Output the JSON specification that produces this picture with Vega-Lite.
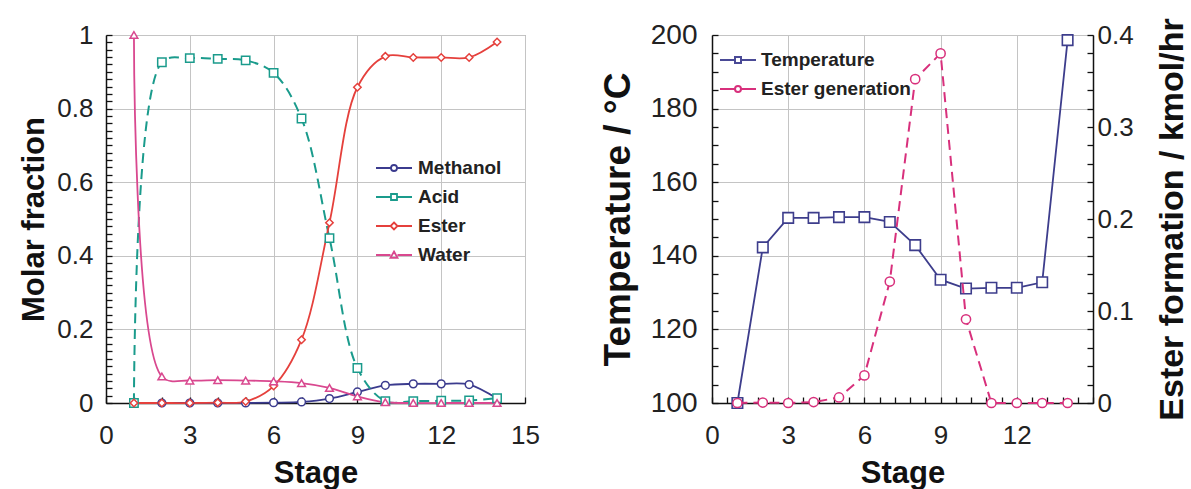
{
  "$schema": "https://vega.github.io/schema/vega-lite/v6.json",
  "padding": {"left": 18, "top": 17, "right": 0, "bottom": 0},
  "background": "white",
  "config": {
    "view": {"stroke": "#8a8a8a", "strokeWidth": 1},
    "axis": {
      "labelFont": "Liberation Sans", "labelFontSize": 26, "labelColor": "#222", "labelFlush": false, "labelOverlap": false,
      "titleFont": "Liberation Sans", "titleFontSize": 31, "titleFontWeight": "bold", "titleColor": "#111",
      "domainColor": "#111", "domainWidth": 1.5, "tickColor": "#111", "tickWidth": 1.3, "tickSize": -6,
      "gridColor": "#c4c4c4", "gridWidth": 1, "labelPadding": 3
    }
  },
  "datasets": {
    "left": [
      {"stage": 1, "series": "Methanol", "value": 0}, {"stage": 2, "series": "Methanol", "value": 0}, {"stage": 3, "series": "Methanol", "value": 0}, {"stage": 4, "series": "Methanol", "value": 0}, {"stage": 5, "series": "Methanol", "value": 0}, {"stage": 6, "series": "Methanol", "value": 0.001}, {"stage": 7, "series": "Methanol", "value": 0.003}, {"stage": 8, "series": "Methanol", "value": 0.012}, {"stage": 9, "series": "Methanol", "value": 0.03}, {"stage": 10, "series": "Methanol", "value": 0.048}, {"stage": 11, "series": "Methanol", "value": 0.052}, {"stage": 12, "series": "Methanol", "value": 0.052}, {"stage": 13, "series": "Methanol", "value": 0.05}, {"stage": 14, "series": "Methanol", "value": 0.012},
      {"stage": 1, "series": "Acid", "value": 0}, {"stage": 2, "series": "Acid", "value": 0.926}, {"stage": 3, "series": "Acid", "value": 0.937}, {"stage": 4, "series": "Acid", "value": 0.935}, {"stage": 5, "series": "Acid", "value": 0.931}, {"stage": 6, "series": "Acid", "value": 0.897}, {"stage": 7, "series": "Acid", "value": 0.773}, {"stage": 8, "series": "Acid", "value": 0.448}, {"stage": 9, "series": "Acid", "value": 0.095}, {"stage": 10, "series": "Acid", "value": 0.005}, {"stage": 11, "series": "Acid", "value": 0.005}, {"stage": 12, "series": "Acid", "value": 0.006}, {"stage": 13, "series": "Acid", "value": 0.007}, {"stage": 14, "series": "Acid", "value": 0.013},
      {"stage": 1, "series": "Ester", "value": 0}, {"stage": 2, "series": "Ester", "value": 0}, {"stage": 3, "series": "Ester", "value": 0}, {"stage": 4, "series": "Ester", "value": 0.001}, {"stage": 5, "series": "Ester", "value": 0.004}, {"stage": 6, "series": "Ester", "value": 0.046}, {"stage": 7, "series": "Ester", "value": 0.172}, {"stage": 8, "series": "Ester", "value": 0.49}, {"stage": 9, "series": "Ester", "value": 0.858}, {"stage": 10, "series": "Ester", "value": 0.942}, {"stage": 11, "series": "Ester", "value": 0.939}, {"stage": 12, "series": "Ester", "value": 0.939}, {"stage": 13, "series": "Ester", "value": 0.939}, {"stage": 14, "series": "Ester", "value": 0.981},
      {"stage": 1, "series": "Water", "value": 1.0}, {"stage": 2, "series": "Water", "value": 0.072}, {"stage": 3, "series": "Water", "value": 0.061}, {"stage": 4, "series": "Water", "value": 0.062}, {"stage": 5, "series": "Water", "value": 0.061}, {"stage": 6, "series": "Water", "value": 0.059}, {"stage": 7, "series": "Water", "value": 0.054}, {"stage": 8, "series": "Water", "value": 0.041}, {"stage": 9, "series": "Water", "value": 0.018}, {"stage": 10, "series": "Water", "value": 0.002}, {"stage": 11, "series": "Water", "value": 0}, {"stage": 12, "series": "Water", "value": 0}, {"stage": 13, "series": "Water", "value": 0}, {"stage": 14, "series": "Water", "value": 0}
    ],
    "right": [
      {"stage": 1, "series": "Temperature", "value": 100}, {"stage": 2, "series": "Temperature", "value": 142.3}, {"stage": 3, "series": "Temperature", "value": 150.3}, {"stage": 4, "series": "Temperature", "value": 150.3}, {"stage": 5, "series": "Temperature", "value": 150.5}, {"stage": 6, "series": "Temperature", "value": 150.5}, {"stage": 7, "series": "Temperature", "value": 149.2}, {"stage": 8, "series": "Temperature", "value": 142.9}, {"stage": 9, "series": "Temperature", "value": 133.5}, {"stage": 10, "series": "Temperature", "value": 131.1}, {"stage": 11, "series": "Temperature", "value": 131.3}, {"stage": 12, "series": "Temperature", "value": 131.3}, {"stage": 13, "series": "Temperature", "value": 132.8}, {"stage": 14, "series": "Temperature", "value": 198.6},
      {"stage": 1, "series": "Ester generation", "value": 0}, {"stage": 2, "series": "Ester generation", "value": 0.0005}, {"stage": 3, "series": "Ester generation", "value": 0}, {"stage": 4, "series": "Ester generation", "value": 0.001}, {"stage": 5, "series": "Ester generation", "value": 0.006}, {"stage": 6, "series": "Ester generation", "value": 0.03}, {"stage": 7, "series": "Ester generation", "value": 0.132}, {"stage": 8, "series": "Ester generation", "value": 0.352}, {"stage": 9, "series": "Ester generation", "value": 0.38}, {"stage": 10, "series": "Ester generation", "value": 0.091}, {"stage": 11, "series": "Ester generation", "value": 0}, {"stage": 12, "series": "Ester generation", "value": 0}, {"stage": 13, "series": "Ester generation", "value": 0}, {"stage": 14, "series": "Ester generation", "value": 0}
    ]
  },
  "resolve": {"scale": {"color": "independent", "shape": "independent"}},
  "spacing": 58,
  "hconcat": [
    {
      "width": 419, "height": 368,
      "data": {"name": "left"},
      "encoding": {
        "x": {"field": "stage", "type": "quantitative", "scale": {"domain": [0, 15], "nice": false},
          "axis": {"title": "Stage", "values": [0,1,2,3,4,5,6,7,8,9,10,11,12,13,14,15],
            "labelExpr": "datum.value % 3 === 0 ? datum.label : ''",
            "gridOpacity": {"condition": {"test": "datum.value % 3 === 0", "value": 1}, "value": 0},
            "labelPadding": 25, "titlePadding": 10}},
        "y": {"field": "value", "type": "quantitative", "scale": {"domain": [0, 1], "nice": false},
          "axis": {"title": "Molar fraction",
            "values": [0,0.02,0.04,0.06,0.08,0.1,0.12,0.14,0.16,0.18,0.2,0.22,0.24,0.26,0.28,0.3,0.32,0.34,0.36,0.38,0.4,0.42,0.44,0.46,0.48,0.5,0.52,0.54,0.56,0.58,0.6,0.62,0.64,0.66,0.68,0.7,0.72,0.74,0.76,0.78,0.8,0.82,0.84,0.86,0.88,0.9,0.92,0.94,0.96,0.98,1],
            "labelExpr": "abs(datum.value*5 - round(datum.value*5)) < 0.001 ? format(datum.value, '.1~f') : ''",
            "gridOpacity": {"condition": {"test": "abs(datum.value*5 - round(datum.value*5)) < 0.001", "value": 1}, "value": 0},
            "labelPadding": 19, "titlePadding": 6}}
      },
      "layer": [
        {"transform": [{"filter": "datum.series === 'Methanol'"}], "mark": {"type": "line", "color": "#3b3b8e", "strokeWidth": 1.8, "interpolate": "catmull-rom"}},
        {"transform": [{"filter": "datum.series === 'Acid'"}], "mark": {"type": "line", "color": "#1a9b8c", "strokeWidth": 2, "strokeDash": [10, 6], "interpolate": "catmull-rom"}},
        {"transform": [{"filter": "datum.series === 'Ester'"}], "mark": {"type": "line", "color": "#e5403c", "strokeWidth": 1.8, "interpolate": "catmull-rom"}},
        {"transform": [{"filter": "datum.series === 'Water'"}], "mark": {"type": "line", "color": "#d9488f", "strokeWidth": 1.8, "interpolate": "catmull-rom"}},
        {"transform": [{"filter": "datum.series === 'Methanol'"}], "mark": {"type": "point", "shape": "circle", "size": 60, "filled": true, "fill": "white", "stroke": "#3b3b8e", "strokeWidth": 1.5, "opacity": 1}},
        {"transform": [{"filter": "datum.series === 'Acid'"}], "mark": {"type": "point", "shape": "square", "size": 70, "filled": true, "fill": "white", "stroke": "#1a9b8c", "strokeWidth": 1.5, "opacity": 1}},
        {"transform": [{"filter": "datum.series === 'Ester'"}], "mark": {"type": "point", "shape": "diamond", "size": 55, "filled": true, "fill": "white", "stroke": "#e5403c", "strokeWidth": 1.5, "opacity": 1}},
        {"transform": [{"filter": "datum.series === 'Water'"}], "mark": {"type": "point", "shape": "triangle-up", "size": 60, "filled": true, "fill": "white", "stroke": "#d9488f", "strokeWidth": 1.5, "opacity": 1}},
        {"transform": [{"filter": "false"}], "mark": {"type": "point", "filled": false, "strokeWidth": 1.8, "opacity": 1},
          "encoding": {
            "color": {"field": "series", "type": "nominal",
              "scale": {"domain": ["Methanol", "Acid", "Ester", "Water"], "range": ["#3b3b8e", "#1a9b8c", "#e5403c", "#d9488f"]},
              "legend": {"title": null, "orient": "none", "legendX": 277, "legendY": 122, "symbolSize": 400, "symbolStrokeWidth": 1.8, "labelFont": "Liberation Sans", "labelFontSize": 19, "labelFontWeight": "bold", "labelColor": "#222", "labelOffset": 13, "rowPadding": 8, "padding": 0}},
            "shape": {"field": "series", "type": "nominal",
              "scale": {"domain": ["Methanol", "Acid", "Ester", "Water"], "range": [
                "M-1.8,0H-0.3M0.3,0H1.8M-0.3,0A0.3,0.3 0 1,1 0.3,0A0.3,0.3 0 1,1 -0.3,0Z",
                "M-1.8,0H-0.3M0.3,0H1.8M-0.3,-0.3H0.3V0.3H-0.3Z",
                "M-1.8,0H-0.35M0.35,0H1.8M0,-0.35L0.35,0L0,0.35L-0.35,0Z",
                "M-1.8,0H-0.35M0.35,0H1.8M0,-0.35L0.35,0.28H-0.35Z"]},
              "legend": {"title": null, "orient": "none", "legendX": 277, "legendY": 122, "symbolSize": 400, "symbolStrokeWidth": 1.8, "labelFont": "Liberation Sans", "labelFontSize": 19, "labelFontWeight": "bold", "labelColor": "#222", "labelOffset": 13, "rowPadding": 8, "padding": 0}}
          }}
      ]
    },
    {
      "width": 381, "height": 368,
      "data": {"name": "right"},
      "encoding": {
        "x": {"field": "stage", "type": "quantitative", "scale": {"domain": [0, 15], "nice": false},
          "axis": {"title": "Stage", "values": [0,0.6,1.2,1.8,2.4,3,3.6,4.2,4.8,5.4,6,6.6,7.2,7.8,8.4,9,9.6,10.2,10.8,11.4,12,12.6,13.2,13.8,14.4,15],
            "labelExpr": "abs(datum.value/3 - round(datum.value/3)) < 0.001 && datum.value < 14 ? format(datum.value, 'd') : ''",
            "gridOpacity": {"condition": {"test": "abs(datum.value/3 - round(datum.value/3)) < 0.001", "value": 1}, "value": 0},
            "labelPadding": 25, "titlePadding": 10}}
      },
      "layer": [
        {
          "encoding": {
            "y": {"field": "value", "type": "quantitative", "scale": {"domain": [100, 200], "nice": false, "zero": false},
              "axis": {"title": "Temperature / °C", "orient": "left",
                "values": [100,105,110,115,120,125,130,135,140,145,150,155,160,165,170,175,180,185,190,195,200],
                "labelExpr": "datum.value % 20 === 0 ? datum.label : ''",
                "gridOpacity": {"condition": {"test": "datum.value % 20 === 0", "value": 1}, "value": 0},
                "labelFontSize": 28, "titleFontSize": 37,
                "labelPadding": 21, "titlePadding": 13}}
          },
          "layer": [
            {"transform": [{"filter": "datum.series === 'Temperature'"}], "mark": {"type": "line", "color": "#3d3d8c", "strokeWidth": 1.8}},
            {"transform": [{"filter": "datum.series === 'Temperature'"}], "mark": {"type": "point", "shape": "square", "size": 110, "filled": true, "fill": "white", "stroke": "#3d3d8c", "strokeWidth": 1.6, "opacity": 1}},
            {"transform": [{"filter": "false"}], "mark": {"type": "point", "filled": false, "strokeWidth": 2, "opacity": 1},
              "encoding": {
                "color": {"field": "series", "type": "nominal",
                  "scale": {"domain": ["Temperature", "Ester generation"], "range": ["#4a4a96", "#d8307c"]},
                  "legend": {"title": null, "orient": "none", "legendX": 15, "legendY": 14, "symbolSize": 400, "symbolStrokeWidth": 2, "labelFont": "Liberation Sans", "labelFontSize": 19, "labelFontWeight": "bold", "labelColor": "#222", "labelOffset": 12, "rowPadding": 8, "padding": 0}},
                "shape": {"field": "series", "type": "nominal",
                  "scale": {"domain": ["Temperature", "Ester generation"], "range": [
                    "M-1.8,0H-0.3M0.3,0H1.8M-0.3,-0.3H0.3V0.3H-0.3Z",
                    "M-1.8,0H-0.3M0.3,0H1.8M-0.3,0A0.3,0.3 0 1,1 0.3,0A0.3,0.3 0 1,1 -0.3,0Z"]},
                  "legend": {"title": null, "orient": "none", "legendX": 15, "legendY": 14, "symbolSize": 400, "symbolStrokeWidth": 2, "labelFont": "Liberation Sans", "labelFontSize": 19, "labelFontWeight": "bold", "labelColor": "#222", "labelOffset": 12, "rowPadding": 8, "padding": 0}}
              }}
          ]
        },
        {
          "encoding": {
            "y": {"field": "value", "type": "quantitative", "scale": {"domain": [0, 0.4], "nice": false},
              "axis": {"title": "Ester formation / kmol/hr", "orient": "right", "grid": false,
                "values": [0,0.02,0.04,0.06,0.08,0.1,0.12,0.14,0.16,0.18,0.2,0.22,0.24,0.26,0.28,0.3,0.32,0.34,0.36,0.38,0.4],
                "labelExpr": "abs(datum.value*10 - round(datum.value*10)) < 0.001 ? format(datum.value, '.1~f') : ''",
                "titleFontSize": 34,
                "labelPadding": 10, "titleAngle": 270, "titleBaseline": "top", "titlePadding": 22}}
          },
          "layer": [
            {"transform": [{"filter": "datum.series === 'Ester generation'"}], "mark": {"type": "line", "color": "#d8307c", "strokeWidth": 2, "strokeDash": [10, 6]}},
            {"transform": [{"filter": "datum.series === 'Ester generation'"}], "mark": {"type": "point", "shape": "circle", "size": 85, "filled": true, "fill": "white", "stroke": "#d8307c", "strokeWidth": 1.5, "opacity": 1}}
          ]
        }
      ],
      "resolve": {"scale": {"y": "independent"}}
    }
  ]
}
